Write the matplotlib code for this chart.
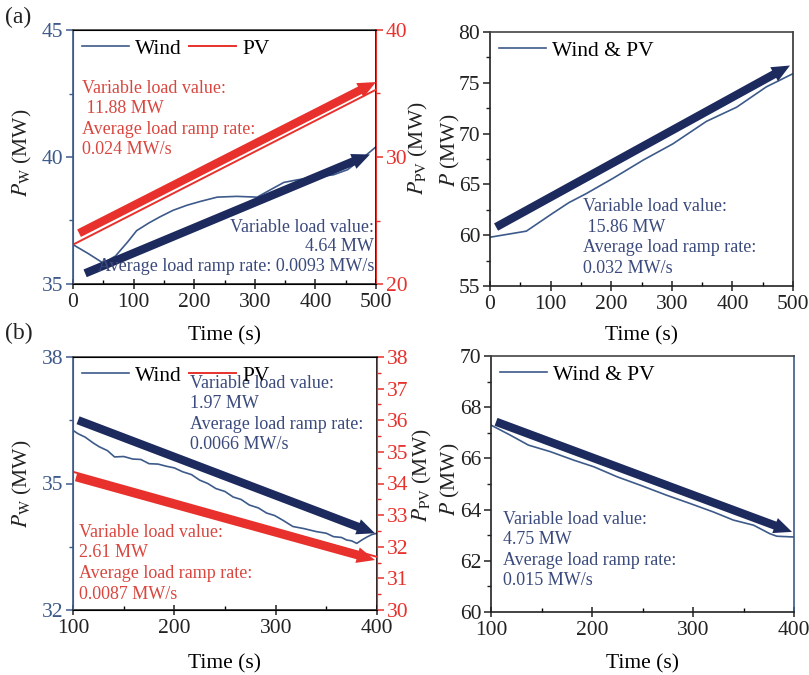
import numpy as np
import matplotlib
matplotlib.use("Agg")
import matplotlib.pyplot as plt
from matplotlib.ticker import MultipleLocator, FixedLocator

plt.rcParams['font.family'] = ['Liberation Serif', 'DejaVu Serif']
plt.rcParams['mathtext.fontset'] = 'stix'

# colours
NAVY_LINE = '#3d5a8a'
NAVY_ARROW = '#1c2a5e'
NAVY_TEXT = '#3b4a7c'
RED = '#e8312c'
RED_TEXT = '#d9463f'

# (a) wind and PV, 0-500 s
time_a_wind = [0, 25, 50, 70, 90, 105, 125, 144, 165, 188, 210, 238, 270, 304,
               325, 348, 370, 397, 430, 453, 475, 500]
wind_a = [36.55, 36.2, 35.82, 36.1, 36.65, 37.1, 37.4, 37.65, 37.9, 38.1, 38.25,
          38.42, 38.45, 38.42, 38.7, 39.0, 39.1, 39.2, 39.3, 39.5, 39.9, 40.4]
time_a_pv = [0, 500]
pv_a = [23.1, 35.3]
time_a_sum = [0, 60, 102, 130, 159, 203, 253, 302, 357, 407, 456, 500]
sum_a = [59.8, 60.4, 62.1, 63.2, 64.1, 65.6, 67.4, 69.0, 71.2, 72.6, 74.6, 75.9]

# (b) wind and PV, 100-400 s
time_b_wind = [100, 105, 112, 120, 126, 134, 141, 150, 159, 167, 175, 184, 192,
               200, 208, 217, 225, 233, 241, 250, 258, 266, 274, 283, 291, 299,
               307, 317, 328, 340, 350, 357, 365, 370, 375, 380, 385, 390, 395, 400]
wind_b = [36.26, 36.18, 36.1, 35.96, 35.87, 35.78, 35.63, 35.64, 35.58, 35.57,
          35.47, 35.46, 35.41, 35.37, 35.28, 35.21, 35.08, 35.0, 34.88, 34.81,
          34.68, 34.62, 34.49, 34.42, 34.3, 34.24, 34.13, 33.98, 33.93, 33.86,
          33.82, 33.74, 33.72, 33.66, 33.64, 33.58, 33.66, 33.73, 33.79, 33.82]
time_b_pv = [100, 400]
pv_b = [34.37, 31.68]
time_b_sum = [100, 119, 137, 159, 182, 202, 225, 248, 274, 297, 320, 340, 360,
              376, 383, 400]
sum_b = [67.30, 66.91, 66.52, 66.26, 65.93, 65.67, 65.28, 64.95, 64.56, 64.24,
         63.91, 63.59, 63.39, 63.06, 62.96, 62.93]

# trend arrows: (t_start, v_start, t_end, v_end)
arrow_a_wind = (20, 35.42, 490, 40.1)
arrow_a_pv = (10, 24.0, 500, 35.9)
arrow_a_sum = (10, 60.8, 495, 76.7)
arrow_b_wind = (105, 36.5, 398, 33.82)
arrow_b_pv = (103, 34.2, 398, 31.58)
arrow_b_sum = (105, 67.43, 398, 63.13)

W, H = 809, 675
fig = plt.figure(figsize=(W / 100, H / 100), dpi=100)


def rect(left, top, right, bottom):
    return [left / W, 1 - bottom / H, (right - left) / W, (bottom - top) / H]


def px(x, y):
    return x / W, 1 - y / H


def arrow(ax, a, color):
    ax.annotate('', xy=(a[2], a[3]), xytext=(a[0], a[1]),
                arrowprops=dict(arrowstyle='simple,head_length=1.3,head_width=1.15,tail_width=0.6',
                                mutation_scale=10, color=color, shrinkA=0, shrinkB=0, lw=0))


def style_x(ax):
    ax.tick_params(axis='x', which='major', direction='inout', length=7, width=1.1,
                   labelsize=15.5, colors='#222222', pad=3)
    ax.tick_params(axis='x', which='minor', direction='in', length=3, width=1.0)
    ax.spines['bottom'].set_color('#222222')
    ax.spines['top'].set_color('#444444')
    for s in ax.spines.values():
        s.set_linewidth(1.2)


def style_y(ax, which_side, color, label_color):
    ax.tick_params(axis='y', which='major', direction='out', length=5, width=1.1,
                   labelsize=15.5, color=color, labelcolor=label_color, pad=2)
    ax.tick_params(axis='y', which='minor', direction='out', length=3, width=1.0, color=color)
    ax.spines[which_side].set_color(color)


TXT = 13
LS = 1.27

# ---------- (a) left ----------
ax1 = fig.add_axes(rect(73, 30, 376, 284))
ax1b = ax1.twinx()
l1, = ax1.plot(time_a_wind, wind_a, color=NAVY_LINE, lw=1.2)
l2, = ax1b.plot(time_a_pv, pv_a, color=RED, lw=1.4)
arrow(ax1, arrow_a_wind, NAVY_ARROW)
arrow(ax1b, arrow_a_pv, RED)
ax1.set_xlim(0, 500)
ax1.set_ylim(35, 45)
ax1b.set_ylim(20, 40)
ax1.xaxis.set_major_locator(MultipleLocator(100))
ax1.xaxis.set_minor_locator(MultipleLocator(50))
ax1.yaxis.set_major_locator(MultipleLocator(5))
ax1.yaxis.set_minor_locator(MultipleLocator(2.5))
ax1b.yaxis.set_major_locator(MultipleLocator(10))
ax1b.yaxis.set_minor_locator(MultipleLocator(5))
style_x(ax1)
style_y(ax1, 'left', NAVY_LINE, NAVY_LINE)
style_y(ax1b, 'right', RED, RED)
ax1b.spines['left'].set_color(NAVY_LINE)
ax1b.spines['right'].set_color(RED)
ax1.set_xlabel('Time (s)', fontsize=15.5)
ax1.xaxis.set_label_coords(0.5, -0.165)
ax1.legend([l1, l2], ['Wind', 'PV'], loc='upper left', ncol=2, frameon=False,
           fontsize=15.5, handlelength=2.2, handletextpad=0.3, columnspacing=0.3,
           borderaxespad=0.1, borderpad=0.3)
ax1.text(0.03, 0.805, 'Variable load value:\n 11.88 MW\nAverage load ramp rate:\n0.024 MW/s',
         transform=ax1.transAxes, color=RED_TEXT, fontsize=TXT, va='top', ha='left',
         linespacing=LS)
ax1.text(0.993, 0.255, 'Variable load value:\n4.64 MW\nAverage load ramp rate: 0.0093 MW/s',
         transform=ax1.transAxes, color=NAVY_TEXT, fontsize=TXT, va='top', ha='right',
         multialignment='right', linespacing=1.17)
fig.text(*px(22, 153), r'$P_{\mathrm{W}}$ (MW)', rotation=90, ha='center', va='center',
         fontsize=15.5, color='#222222')
fig.text(*px(418, 148), r'$P_{\mathrm{PV}}$ (MW)', rotation=90, ha='center', va='center',
         fontsize=15.5, color='#222222')

# ---------- (a) right ----------
ax2 = fig.add_axes(rect(490, 32, 793, 286))
l3, = ax2.plot(time_a_sum, sum_a, color=NAVY_LINE, lw=1.2)
arrow(ax2, arrow_a_sum, NAVY_ARROW)
ax2.set_xlim(0, 500)
ax2.set_ylim(55, 80)
ax2.xaxis.set_major_locator(MultipleLocator(100))
ax2.xaxis.set_minor_locator(MultipleLocator(50))
ax2.yaxis.set_major_locator(MultipleLocator(5))
ax2.yaxis.set_minor_locator(MultipleLocator(2.5))
style_x(ax2)
style_y(ax2, 'left', '#222222', '#222222')
ax2.spines['right'].set_color('#333333')
ax2.set_xlabel('Time (s)', fontsize=15.5)
ax2.xaxis.set_label_coords(0.5, -0.157)
ax2.legend([l3], ['Wind & PV'], loc='upper left', frameon=False, fontsize=15.5,
           handlelength=2.2, handletextpad=0.3, borderaxespad=0.1, borderpad=0.3)
ax2.text(0.307, 0.345, 'Variable load value:\n 15.86 MW\nAverage load ramp rate:\n0.032 MW/s',
         transform=ax2.transAxes, color=NAVY_TEXT, fontsize=TXT, va='top', ha='left',
         linespacing=LS)
fig.text(*px(450, 150), r'$P$ (MW)', rotation=90, ha='center', va='center',
         fontsize=15.5, color='#222222')

# ---------- (b) left ----------
ax3 = fig.add_axes(rect(73, 357, 377, 610))
ax3b = ax3.twinx()
l4, = ax3.plot(time_b_wind, wind_b, color=NAVY_LINE, lw=1.2)
l5, = ax3b.plot(time_b_pv, pv_b, color=RED, lw=1.4)
arrow(ax3, arrow_b_wind, NAVY_ARROW)
arrow(ax3b, arrow_b_pv, RED)
ax3.set_xlim(100, 400)
ax3.set_ylim(32, 38)
ax3b.set_ylim(30, 38)
ax3.xaxis.set_major_locator(MultipleLocator(100))
ax3.xaxis.set_minor_locator(MultipleLocator(50))
ax3.yaxis.set_major_locator(FixedLocator([32, 35, 38]))
ax3.yaxis.set_minor_locator(FixedLocator([33.5, 36.5]))
ax3b.yaxis.set_major_locator(MultipleLocator(1))
ax3b.yaxis.set_minor_locator(MultipleLocator(0.5))
style_x(ax3)
style_y(ax3, 'left', NAVY_LINE, NAVY_LINE)
style_y(ax3b, 'right', RED, RED)
ax3b.spines['left'].set_color(NAVY_LINE)
ax3b.spines['right'].set_color(RED)
ax3.set_xlabel('Time (s)', fontsize=15.5)
ax3.xaxis.set_label_coords(0.5, -0.175)
ax3.legend([l4, l5], ['Wind', 'PV'], loc='upper left', ncol=2, frameon=False,
           fontsize=15.5, handlelength=2.2, handletextpad=0.3, columnspacing=0.3,
           borderaxespad=0.1, borderpad=0.3)
ax3.text(0.385, 0.93, 'Variable load value:\n1.97 MW\nAverage load ramp rate:\n0.0066 MW/s',
         transform=ax3.transAxes, color=NAVY_TEXT, fontsize=TXT, va='top', ha='left',
         linespacing=LS)
ax3.text(0.02, 0.34, 'Variable load value:\n2.61 MW\nAverage load ramp rate:\n0.0087 MW/s',
         transform=ax3.transAxes, color=RED_TEXT, fontsize=TXT, va='top', ha='left',
         linespacing=LS)
fig.text(*px(22, 484), r'$P_{\mathrm{W}}$ (MW)', rotation=90, ha='center', va='center',
         fontsize=15.5, color='#222222')
fig.text(*px(422, 475), r'$P_{\mathrm{PV}}$ (MW)', rotation=90, ha='center', va='center',
         fontsize=15.5, color='#222222')

# ---------- (b) right ----------
ax4 = fig.add_axes(rect(491, 356, 794, 612))
l6, = ax4.plot(time_b_sum, sum_b, color=NAVY_LINE, lw=1.2)
arrow(ax4, arrow_b_sum, NAVY_ARROW)
ax4.set_xlim(100, 400)
ax4.set_ylim(60, 70)
ax4.xaxis.set_major_locator(MultipleLocator(100))
ax4.xaxis.set_minor_locator(MultipleLocator(50))
ax4.yaxis.set_major_locator(MultipleLocator(2))
ax4.yaxis.set_minor_locator(MultipleLocator(1))
style_x(ax4)
style_y(ax4, 'left', '#222222', '#222222')
ax4.spines['right'].set_color(NAVY_LINE)
ax4.set_xlabel('Time (s)', fontsize=15.5)
ax4.xaxis.set_label_coords(0.5, -0.165)
ax4.legend([l6], ['Wind & PV'], loc='upper left', frameon=False, fontsize=15.5,
           handlelength=2.2, handletextpad=0.3, borderaxespad=0.1, borderpad=0.3)
ax4.text(0.04, 0.395, 'Variable load value:\n4.75 MW\nAverage load ramp rate:\n0.015 MW/s',
         transform=ax4.transAxes, color=NAVY_TEXT, fontsize=TXT, va='top', ha='left',
         linespacing=LS)
fig.text(*px(450, 479), r'$P$ (MW)', rotation=90, ha='center', va='center',
         fontsize=15.5, color='#222222')

# panel tags
fig.text(*px(5, 17), '(a)', fontsize=17, ha='left', va='center', color='#222222')
fig.text(*px(5, 333), '(b)', fontsize=17, ha='left', va='center', color='#222222')

fig.savefig('out.png', dpi=100)
